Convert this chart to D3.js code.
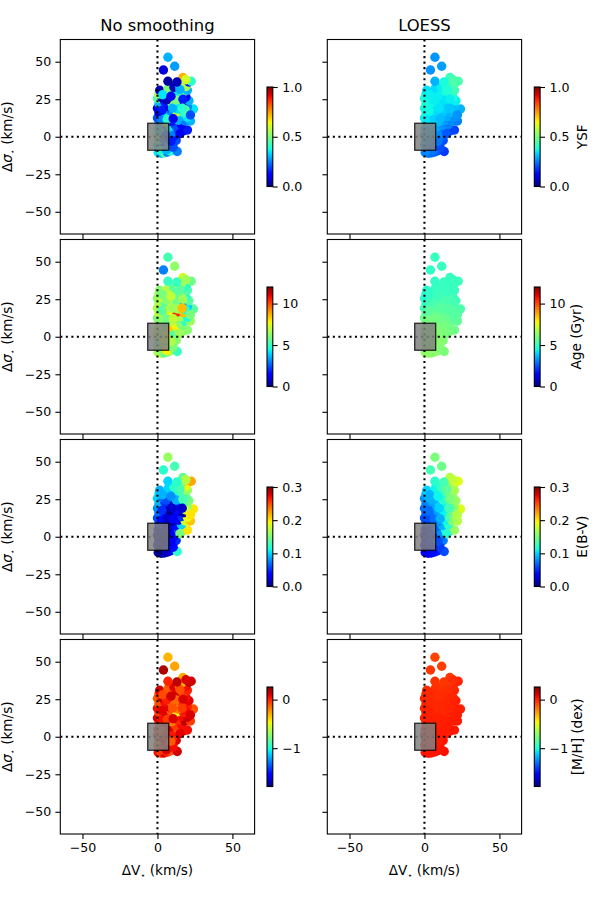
<!DOCTYPE html>
<html><head><meta charset="utf-8">
<script src="https://cdn.jsdelivr.net/npm/d3@7"></script>
<style>body{margin:0;background:#fff} svg{display:block} text{font-family:"DejaVu Sans",sans-serif;fill:#000}</style>
</head><body><svg id="c" width="600" height="900"></svg>
<script>
// ΔV (x) and Δσ (y) of each point, km/s
const dV = [
0.5,2.5,4.5,6.5,8.5,13.2,1.2,4.8,8.2,0.2,
3.5,7,10.5,12.5,0.8,4,8,11,0,2.8,
6.5,10,14,17.5,20,0.5,4,8,12,16,
1,5,9.5,14,18.5,22,0,3,7,11.5,
16,20,1,5,9,13,17.5,21,24,0,
3.5,7.5,12,16,20,1,5,9.5,14,18,
21,0,3,7,11.5,15.5,19,1,5,9,
13,17,20,1.5,7,11,14.5,19,16.5,21,
22.5,7,17,4,11.5,7,2,6,10.5,2,
5.5,9,2.5,6.5,10.5,13.5,18.5,22,3,10,
6,12.5,17,3.5,9,15,19,13,16.5,15];
const dSig = [
-10.5,-11,-10.8,-10.2,-9.5,-9.8,-8,-7.5,-6.8,-5.5,
-5,-4.2,-3.8,-2.5,-2.2,-1.5,-1,0.5,1,2.5,
2,3,4.5,4,4.5,5,6,6.5,7.5,8,
9,9.5,10,11,10.5,10.5,12.5,13,13.5,14,
13.5,13,16,16.5,17,16.5,16,17,18.5,19,
19.5,20,20.5,21,20,22,23,22.5,23.5,23,
24,25.5,26,26.5,26,27,26.5,28.5,29,29.5,
30,29.5,31,31,32,33,34,33.5,36,36.5,
37,37,39.5,44.5,47,53,-9,-8.8,-7,3.5,
0.5,-3,11,11.5,12,18.5,18,14.5,17.5,19,
24.5,24.5,25,28,27,31.5,38,36.5,19,2];

const ysfRaw = [
0.35,0.3,0.45,0.25,0.4,0.25,0.1,0.2,0.05,0.35,
0.15,0.3,0.1,0.2,0.45,0.25,0.05,0.15,0.5,0.3,
0.1,0.25,0.2,0.1,0.15,0.4,0.05,0.35,0.2,0.1,
0.3,0.55,0.15,0.3,0.25,0.3,0.2,0.4,0.1,0.45,
0.3,0.35,0.05,0.35,0.25,0.6,0.4,0.35,0.35,0.1,
0.45,0.05,0.2,0.4,0.25,0.3,0.15,0.5,0.35,0.05,
0.3,0.45,0.05,0.3,0.15,0.4,0.1,0.55,0.2,0.05,
0.35,0.45,0.3,0.05,0.5,0.05,0.25,0.55,0.55,0.1,
0.4,0.03,0.72,0.08,0.28,0.3,0.4,0.3,0.2,0.35,
0.2,0.15,0.25,0.4,0.1,0.35,0.45,0.2,0.15,0.3,
0.05,0.5,0.15,0.35,0.1,0.3,0.6,0.05,0.4,0.1];
const ysfLoess = [
0.26,0.25,0.24,0.23,0.22,0.18,0.27,0.25,0.23,0.29,
0.27,0.25,0.22,0.2,0.3,0.28,0.26,0.24,0.31,0.3,
0.28,0.26,0.23,0.2,0.19,0.32,0.31,0.29,0.27,0.25,
0.34,0.33,0.31,0.28,0.26,0.25,0.36,0.35,0.33,0.31,
0.29,0.27,0.37,0.36,0.34,0.32,0.3,0.29,0.3,0.38,
0.37,0.35,0.34,0.33,0.32,0.38,0.37,0.36,0.35,0.35,
0.36,0.38,0.37,0.36,0.36,0.37,0.38,0.37,0.36,0.36,
0.38,0.4,0.42,0.35,0.34,0.36,0.4,0.43,0.43,0.45,
0.44,0.3,0.42,0.27,0.28,0.27,0.26,0.24,0.2,0.31,
0.28,0.24,0.35,0.33,0.31,0.33,0.31,0.27,0.37,0.35,
0.36,0.35,0.36,0.36,0.36,0.39,0.44,0.38,0.32,0.21];
const ageRaw = [
6.5,7,5.5,6,6.8,5,7.2,6.5,7.5,6,
7,5.8,6.6,6.2,5.5,7.5,6.8,6,7,6.3,
8,5.5,6.4,5.8,6.2,7.3,6.6,8.3,7.8,6,
6.8,5.5,7,6.2,5,6.5,6,7.2,6.5,5.3,
6.8,4.5,7,6,7.5,10.5,8.5,8.2,5.5,6.7,
6,7.2,5.8,6.5,4,6.8,5.5,7,6.2,3.2,
5.5,6.3,7,5.8,6.5,5.2,4.8,6.5,6,7,
5.5,6,5.3,6.2,6.8,5.5,6.3,5,6.8,4.5,
5.8,5,7.2,3,6.3,5.2,6.3,7.8,6,6.5,
7.5,6.8,6.2,5.8,7,6.6,4.8,6,5.5,6.5,
6.2,5.8,6.5,6,7,5.5,6.5,5,8.5,6.5];
const ageLoess = [
6.3,6.3,6.3,6.2,6.2,6.0,6.3,6.3,6.2,6.3,
6.3,6.2,6.1,6.1,6.3,6.3,6.2,6.1,6.2,6.3,
6.2,6.1,6.0,5.9,5.8,6.1,6.2,6.1,6.0,5.9,
6.0,6.1,6.0,5.9,5.7,5.6,5.8,5.9,5.9,5.8,
5.7,5.5,5.6,5.7,5.7,5.7,5.5,5.4,5.3,5.2,
5.4,5.5,5.5,5.4,5.3,5.0,5.2,5.3,5.3,5.2,
5.2,4.8,5.0,5.1,5.2,5.1,5.1,4.7,4.9,5.0,
5.1,5.0,5.0,4.8,5.0,5.0,5.0,5.0,5.0,5.1,
5.1,4.9,5.0,4.9,5.0,5.0,6.3,6.2,6.1,6.2,
6.3,6.2,5.9,5.9,5.8,5.5,5.4,5.5,5.5,5.5,
5.2,5.3,5.2,4.9,5.1,5.0,5.0,5.0,5.4,6.0];
const ebvRaw = [
0.01,0.0,0.02,0.01,0.03,0.12,0.0,0.01,0.02,0.02,
0.0,0.01,0.03,0.05,0.03,0.0,0.02,0.04,0.04,0.01,
0.0,0.03,0.06,0.17,0.2,0.03,0.01,0.02,0.04,0.1,
0.05,0.02,0.01,0.03,0.18,0.21,0.06,0.03,0.01,0.02,
0.05,0.19,0.07,0.02,0.0,0.03,0.01,0.21,0.2,0.08,
0.04,0.01,0.03,0.1,0.16,0.09,0.05,0.02,0.08,0.12,
0.15,0.1,0.07,0.04,0.06,0.11,0.14,0.1,0.08,0.07,
0.12,0.14,0.16,0.09,0.1,0.12,0.13,0.19,0.15,0.2,
0.22,0.1,0.14,0.12,0.13,0.16,0.0,0.02,0.04,0.02,
0.01,0.03,0.04,0.02,0.03,0.04,0.18,0.2,0.05,0.02,
0.06,0.09,0.13,0.09,0.08,0.13,0.17,0.12,0.02,0.15];
const ebvLoess = [
0.03,0.03,0.035,0.04,0.045,0.06,0.03,0.035,0.045,0.035,
0.04,0.045,0.06,0.075,0.04,0.045,0.05,0.07,0.045,0.05,
0.06,0.08,0.11,0.14,0.16,0.05,0.055,0.07,0.09,0.12,
0.055,0.06,0.08,0.11,0.15,0.17,0.06,0.065,0.075,0.1,
0.13,0.16,0.065,0.07,0.085,0.11,0.14,0.17,0.185,0.07,
0.075,0.09,0.11,0.13,0.16,0.075,0.085,0.1,0.12,0.14,
0.16,0.08,0.09,0.1,0.12,0.14,0.16,0.09,0.1,0.115,
0.13,0.15,0.165,0.1,0.11,0.125,0.14,0.165,0.16,0.18,
0.185,0.12,0.17,0.13,0.145,0.15,0.03,0.04,0.055,0.045,
0.05,0.06,0.06,0.07,0.09,0.11,0.15,0.17,0.07,0.1,
0.09,0.12,0.15,0.09,0.11,0.14,0.175,0.13,0.13,0.12];
const mhRaw = [
0.05,-0.05,0.1,0.0,-0.1,0.12,0.15,-0.08,0.02,-0.12,
0.05,0.0,-0.05,0.1,-0.15,0.08,-0.1,0.0,-0.05,0.12,
-0.08,0.03,-0.12,0.15,0.05,0.0,-0.15,0.1,-0.05,0.05,
-0.1,0.08,-0.2,0.0,0.15,-0.05,0.1,-0.1,0.02,-0.15,
0.05,0.12,-0.05,0.12,-0.1,-0.5,0.02,-0.08,-0.1,0.05,
-0.12,0.1,-0.05,0.15,0.0,-0.1,0.05,-0.15,0.1,-0.05,
0.08,-0.12,0.15,-0.1,0.02,-0.18,0.05,-0.05,0.1,-0.15,
0.12,-0.1,0.0,0.12,-0.12,0.08,-0.2,0.05,-0.3,0.18,
0.12,0.0,-0.3,0.18,-0.28,-0.32,-0.05,0.1,0.05,-0.1,
0.05,-0.12,0.05,-0.05,0.1,-0.2,0.05,0.1,0.08,-0.1,
0.02,-0.15,0.1,-0.08,0.12,-0.1,0.1,0.15,-0.05,0.08];
const mhLoess = [
0.03,0.03,0.03,0.03,0.03,0.04,0.03,0.03,0.03,0.03,
0.03,0.03,0.03,0.03,0.02,0.02,0.02,0.02,0.02,0.02,
0.02,0.02,0.02,0.03,0.03,0.02,0.02,0.02,0.02,0.02,
0.01,0.01,0.01,0.01,0.02,0.02,0.01,0.01,0.01,0.0,
0.01,0.02,0.01,0.0,0.0,-0.01,0.0,0.01,0.01,0.0,
0.0,-0.01,-0.01,0.0,0.01,0.0,-0.01,-0.01,-0.01,0.0,
0.01,0.0,-0.01,-0.01,-0.02,-0.01,0.0,-0.01,-0.01,-0.02,
-0.02,-0.01,0.0,-0.01,-0.02,-0.03,-0.03,-0.01,-0.04,-0.01,
0.0,-0.03,-0.05,-0.04,-0.06,-0.07,0.03,0.03,0.03,0.02,
0.02,0.02,0.01,0.01,0.01,-0.01,0.01,0.02,0.01,-0.01,
-0.01,-0.01,0.0,-0.01,-0.02,-0.02,-0.02,-0.04,0.0,0.02];

const colTitles = ["No smoothing", "LOESS"];
const cbLabels = ["YSF", "Age (Gyr)", "E(B-V)", "[M/H] (dex)"];
const cbDomains = [[0, 1], [0, 12], [0, 0.3], [-1.79, 0.26]];
const cbTicks = [[0, 0.5, 1], [0, 5, 10], [0, 0.1, 0.2, 0.3], [-1, 0]];
const cbFormats = [".1f", "d", ".1f", "d"];
const xTicks = [-50, 0, 50];
const yTicks = [-50, -25, 0, 25, 50];
const axLim = [-64.8, 64.8];
const boxV = [-6.5, 7.5];
const boxS = [-9, 9];
const panelValues = [[ysfRaw, ysfLoess], [ageRaw, ageLoess], [ebvRaw, ebvLoess], [mhRaw, mhLoess]];

// jet colormap (matplotlib segment data)
const jr = d3.scaleLinear().domain([0,0.35,0.66,0.89,1]).range([0,0,1,1,0.5]).clamp(true);
const jg = d3.scaleLinear().domain([0,0.125,0.375,0.64,0.91,1]).range([0,0,1,1,0,0]).clamp(true);
const jb = d3.scaleLinear().domain([0,0.11,0.34,0.65,1]).range([0.5,1,1,0,0]).clamp(true);
const jet = t => d3.rgb(Math.round(jr(t)*255), Math.round(jg(t)*255), Math.round(jb(t)*255)).formatHex();

const svg = d3.select("#c");
const defs = svg.append("defs");
const grad = defs.append("linearGradient").attr("id","jetg").attr("x1",0).attr("y1",1).attr("x2",0).attr("y2",0);
d3.range(0, 1.0001, 0.02).forEach(t => grad.append("stop").attr("offset", t).attr("stop-color", jet(t)));

const colLeft = [60.3, 327.3], W = 194.3, H = 194.5;
const rowTop = [39.5, 239.5, 439.5, 639.5];
const cbX = [267, 534.3], cbW = 5.8, cbH = 99.5;
const cbLabelX = [586.5, 580.5, 587, 582];
const tickLen = 4.9, tickFont = 12.6, labFont = 13.6;
const lw = 1.1;

for (let r = 0; r < 4; r++) {
  for (let c = 0; c < 2; c++) {
    const x0 = colLeft[c], y0 = rowTop[r];
    const sx = d3.scaleLinear().domain(axLim).range([x0, x0 + W]);
    const sy = d3.scaleLinear().domain(axLim).range([y0 + H, y0]);
    const cmapScale = d3.scaleLinear().domain(cbDomains[r]).range([0, 1]).clamp(true);
    const g = svg.append("g");
    const clipId = `clip${r}${c}`;
    defs.append("clipPath").attr("id", clipId).append("rect").attr("x", x0).attr("y", y0).attr("width", W).attr("height", H);
    const vals = panelValues[r][c];
    const pg = g.append("g").attr("clip-path", `url(#${clipId})`);
    pg.selectAll("circle").data(d3.range(dV.length)).join("circle")
      .attr("cx", i => sx(dV[i])).attr("cy", i => sy(dSig[i])).attr("r", 4.7)
      .attr("fill", i => jet(cmapScale(vals[i])));
    // dotted zero lines
    pg.append("line").attr("x1", sx(0)).attr("x2", sx(0)).attr("y1", y0).attr("y2", y0 + H)
      .attr("stroke", "#000").attr("stroke-width", 2.08).attr("stroke-dasharray", "2.08 3.44");
    pg.append("line").attr("y1", sy(0)).attr("y2", sy(0)).attr("x1", x0).attr("x2", x0 + W)
      .attr("stroke", "#000").attr("stroke-width", 2.08).attr("stroke-dasharray", "2.08 3.44");
    // gray box
    pg.append("rect").attr("x", sx(boxV[0])).attr("y", sy(boxS[1]))
      .attr("width", sx(boxV[1]) - sx(boxV[0])).attr("height", sy(boxS[0]) - sy(boxS[1]))
      .attr("fill", "#808080").attr("fill-opacity", 0.85)
      .attr("stroke", "#000").attr("stroke-opacity", 0.8).attr("stroke-width", 1.3);
    // axes
    const xa = d3.axisBottom(sx).tickValues(xTicks).tickSize(tickLen).tickPadding(4.2)
      .tickFormat(r === 3 ? d3.format("d") : () => "");
    const ya = d3.axisLeft(sy).tickValues(yTicks).tickSize(tickLen).tickPadding(4.2)
      .tickFormat(c === 0 ? d3.format("d") : () => "");
    const gx = g.append("g").attr("transform", `translate(0,${y0 + H})`).call(xa);
    const gy = g.append("g").attr("transform", `translate(${x0},0)`).call(ya);
    [gx, gy].forEach(a => {
      a.select(".domain").remove();
      a.selectAll("line").attr("stroke", "#000").attr("stroke-width", lw);
      a.selectAll("text").attr("font-size", tickFont).attr("font-family", "DejaVu Sans").attr("fill", "#000");
    });
    g.append("rect").attr("x", x0).attr("y", y0).attr("width", W).attr("height", H)
      .attr("fill", "none").attr("stroke", "#000").attr("stroke-width", lw);
    // labels
    if (r === 0) {
      g.append("text").attr("x", x0 + W / 2).attr("y", 31).attr("text-anchor", "middle")
        .attr("font-size", 16.4).text(colTitles[c]);
    }
    if (c === 0) {
      const t = g.append("text").attr("transform", `translate(12,${y0 + H / 2}) rotate(-90)`)
        .attr("text-anchor", "middle").attr("font-size", labFont);
      t.append("tspan").text("Δ");
      t.append("tspan").attr("font-style", "italic").text("σ");
      t.append("tspan").attr("font-size", 8).attr("dy", 3).text("⋆");
      t.append("tspan").attr("dy", -3).text(" (km/s)");
    }
    if (r === 3) {
      const t = g.append("text").attr("x", x0 + W / 2).attr("y", 874.5)
        .attr("text-anchor", "middle").attr("font-size", labFont);
      t.append("tspan").text("ΔV");
      t.append("tspan").attr("font-size", 8).attr("dy", 3).text("⋆");
      t.append("tspan").attr("dy", -3).text(" (km/s)");
    }
    // colorbar
    const cy0 = y0 + H / 2 - cbH / 2;
    const cs = d3.scaleLinear().domain(cbDomains[r]).range([cy0 + cbH, cy0]);
    g.append("rect").attr("x", cbX[c]).attr("y", cy0).attr("width", cbW).attr("height", cbH)
      .attr("fill", "url(#jetg)");
    const ca = d3.axisRight(cs).tickValues(cbTicks[r]).tickSize(tickLen).tickPadding(4.6)
      .tickFormat(d3.format(cbFormats[r]));
    const gc = g.append("g").attr("transform", `translate(${cbX[c] + cbW},0)`).call(ca);
    gc.select(".domain").remove();
    gc.selectAll("line").attr("stroke", "#000").attr("stroke-width", lw);
    gc.selectAll("text").attr("font-size", tickFont).attr("font-family", "DejaVu Sans").attr("fill", "#000");
    g.append("rect").attr("x", cbX[c]).attr("y", cy0).attr("width", cbW).attr("height", cbH)
      .attr("fill", "none").attr("stroke", "#000").attr("stroke-width", lw);
    if (c === 1) {
      g.append("text").attr("transform", `translate(${cbLabelX[r]},${y0 + H / 2}) rotate(-90)`)
        .attr("text-anchor", "middle").attr("font-size", labFont).text(cbLabels[r]);
    }
  }
}
</script></body></html>
